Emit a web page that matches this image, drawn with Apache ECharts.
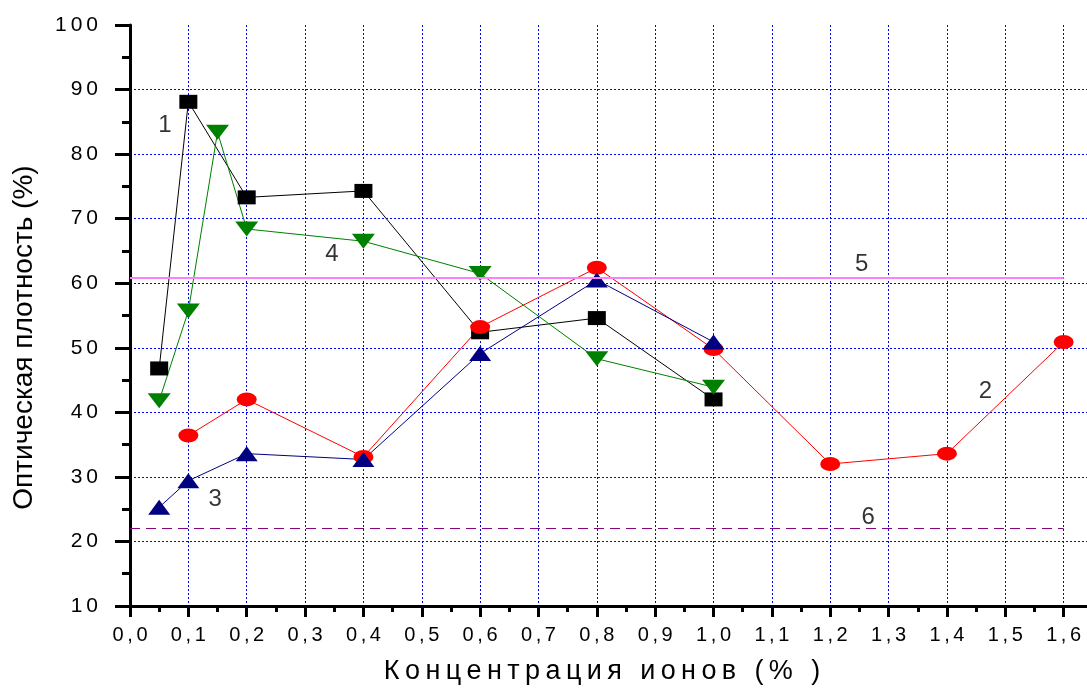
<!DOCTYPE html>
<html>
<head>
<meta charset="utf-8">
<script src="https://cdn.jsdelivr.net/npm/echarts@6/dist/echarts.min.js"></script>
<style>html,body{margin:0;padding:0;background:#fff;}#c{width:1087px;height:691px;}</style>
</head>
<body>
<div id="c"></div>
<script>
// ---- data ----
const x1 = [0.05, 0.1, 0.2, 0.4, 0.6, 0.8, 1.0];
const y1 = [46.8, 88.1, 73.3, 74.3, 52.4, 54.6, 42.0];
const x2 = [0.1, 0.2, 0.4, 0.6, 0.8, 1.0, 1.2, 1.4, 1.6];
const y2 = [36.4, 42.0, 33.1, 53.2, 62.4, 49.8, 32.0, 33.6, 50.9];
const x3 = [0.05, 0.1, 0.2, 0.4, 0.6, 0.8, 1.0];
const y3 = [25.3, 29.4, 33.6, 32.7, 49.1, 60.5, 50.9];
const x4 = [0.05, 0.1, 0.15, 0.2, 0.4, 0.6, 0.8, 1.0];
const y4 = [41.8, 55.7, 83.4, 68.4, 66.5, 61.5, 48.3, 43.9];
const line5X = [0, 1.6];
const line5Y = [60.8, 60.8];
const line6X = [0, 1.6];
const line6Y = [22.0, 22.0];
const curveLabels = ['1', '2', '3', '4', '5', '6'];
const curveLabelX = [0.06, 1.466, 0.146, 0.346, 1.254, 1.265];
const curveLabelY = [84.5, 43.2, 26.5, 64.4, 62.9, 23.7];
const xTitle = 'Концентрация ионов (% )';
const yTitle = 'Оптическая плотность (%)';

const zip = (xs, ys) => xs.map((x, i) => [x, ys[i]]);
const spaced = s => s.split('').map(c => '{c|' + c + '}').join('');
const FONT = 'Liberation Sans, Arial, sans-serif';

const chart = echarts.init(document.getElementById('c'), null, {renderer: 'canvas'});
const lineSeries = (name, xs, ys, color, symbol, size, rotate) => ({
  name, type: 'line', data: zip(xs, ys),
  symbol, symbolSize: size, symbolRotate: rotate || 0, showSymbol: true,
  lineStyle: {color, width: 1},
  itemStyle: {color, borderWidth: 0},
  z: 3
});

chart.setOption({
  animation: false,
  backgroundColor: '#fff',
  grid: {left: 130, top: 25, bottom: 85, right: -35, containLabel: false, outerBoundsMode: 'none'},
  xAxis: {
    type: 'value', min: 0, max: 1.7, interval: 0.1,
    name: spaced(xTitle), nameLocation: 'middle', nameGap: 52,
    nameTextStyle: {fontFamily: FONT, fontSize: 27, color: '#000',
      padding: [0, 48, 0, 0],
      rich: {c: {fontFamily: FONT, fontSize: 27, color: '#000', padding: [0, 2.7]}}},
    axisLine: {show: true, lineStyle: {color: '#000', width: 3}},
    axisTick: {show: true, length: 11, lineStyle: {color: '#000', width: 3}},
    minorTick: {show: true, splitNumber: 2, length: 6, lineStyle: {color: '#000', width: 3}},
    axisLabel: {
      margin: 19, fontFamily: FONT, fontSize: 20, color: '#000',
      formatter: v => (v <= 1.6001) ? spaced(v.toFixed(1).replace('.', ',')) : '',
      rich: {c: {fontFamily: FONT, fontSize: 20, color: '#000', padding: [0, 1.8]}}
    },
    splitLine: {show: true, showMinLine: false, lineStyle: {color: '#0000ff', width: 1, type: [2, 2]}}
  },
  yAxis: {
    type: 'value', min: 10, max: 100, interval: 10,
    name: yTitle, nameLocation: 'middle', nameGap: 92, nameRotate: 90,
    nameTextStyle: {fontFamily: FONT, fontSize: 28, color: '#000', padding: [0, 44, 0, 0]},
    axisLine: {show: true, lineStyle: {color: '#000', width: 3}},
    axisTick: {show: true, length: 15, lineStyle: {color: '#000', width: 3}},
    minorTick: {show: true, splitNumber: 2, length: 8, lineStyle: {color: '#000', width: 3}},
    axisLabel: {
      margin: 30, fontFamily: FONT, fontSize: 21, color: '#000',
      formatter: v => spaced(String(v)),
      rich: {c: {fontFamily: FONT, fontSize: 21, color: '#000', padding: [0, 2]}}
    },
    splitLine: {show: true, showMinLine: false, showMaxLine: false, lineStyle: {color: '#0000ff', width: 1, type: [2, 2]}}
  },
  series: [
    lineSeries('1', x1, y1, '#000000', 'rect', [18, 14]),
    lineSeries('2', x2, y2, '#ff0000', 'circle', [20, 14]),
    lineSeries('3', x3, y3, '#000080', 'triangle', [22, 15]),
    lineSeries('4', x4, y4, '#008000', 'triangle', [23, 15], 180),
    {name: '5', type: 'line', data: zip(line5X, line5Y), symbol: 'none',
      lineStyle: {color: '#ff80ff', width: 2}, z: 4},
    {name: '6', type: 'line', data: zip(line6X, line6Y), symbol: 'none',
      lineStyle: {color: '#800080', width: 1, type: [10, 6]}, z: 4},
    {name: 'labels', type: 'scatter', symbolSize: 0, silent: true, z: 5,
      data: curveLabels.map((t, i) => ({name: t, value: [curveLabelX[i], curveLabelY[i]]})),
      label: {show: true, position: 'inside', formatter: '{b}', fontFamily: FONT, fontSize: 24, color: '#000'}}
  ]
});
</script>
</body>
</html>
